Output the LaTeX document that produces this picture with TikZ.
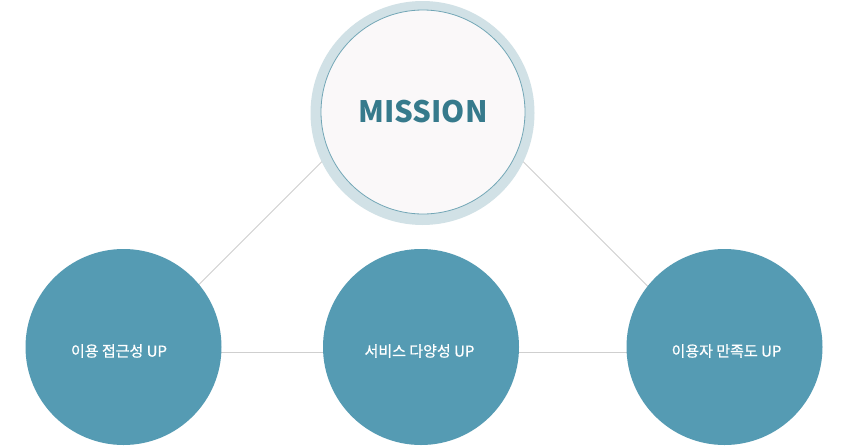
\documentclass[tikz,border=0pt]{standalone}
\usepackage{fontspec}
\setmainfont{Noto Sans CJK KR}
\newfontfamily\krmed{Noto Sans CJK KR}[FakeBold=0.7]
\definecolor{teal}{HTML}{559BB3}
\definecolor{ring}{HTML}{D1E1E6}
\definecolor{innerline}{HTML}{72A6B6}
\definecolor{innerfill}{HTML}{FAF8F9}
\definecolor{mission}{HTML}{367A8C}
\definecolor{linegray}{HTML}{CFCFCF}
\begin{document}
\begin{tikzpicture}[x=1pt,y=-1pt,
  conn/.style={draw=linegray,line width=1pt},
  goal/.style={circle,fill=teal,minimum size=196pt,inner sep=0pt},
  goaltext/.style={text=white,inner sep=0pt,font=\krmed\fontsize{15}{18}\selectfont},
]
\useasboundingbox (0,0) rectangle (848,447);
\fill[white] (0,0) rectangle (848,447);
\coordinate (apex) at (422.5,61);
\coordinate (bl) at (131.5,352);
\coordinate (br) at (713.5,352);
\draw[conn] (bl) -- (apex) -- (br);
\draw[conn] (bl) -- (br);
\node[circle,fill=ring,minimum size=224pt,inner sep=0pt] (outer) at (422.5,113) {};
\node[circle,fill=innerfill,draw=innerline,line width=0.8pt,minimum size=204pt,inner sep=0pt,text=mission,font=\bfseries\fontsize{29.5}{34}\selectfont] (mission) at (423,112) {MISSION};
\node[goal] (g1) at (123.5,347) {};
\node[goal] (g2) at (421,347) {};
\node[goal] (g3) at (724.5,347) {};
\node[goaltext] (t1) at (119,351) {이용 접근성 UP};
\node[goaltext] (t2) at (419.5,351) {서비스 다양성 UP};
\node[goaltext] (t3) at (726.5,351) {이용자 만족도 UP};
\end{tikzpicture}
\end{document}
